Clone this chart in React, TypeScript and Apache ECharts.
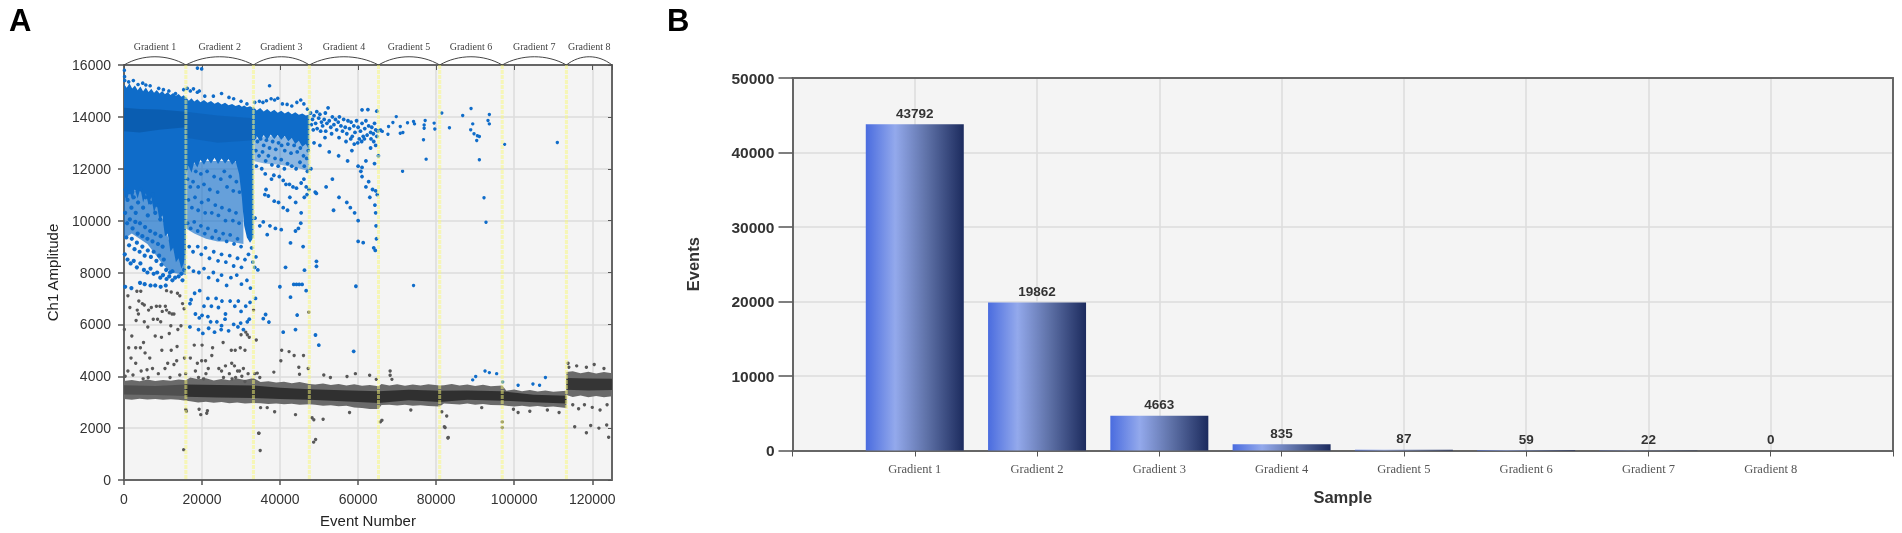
import React, { useEffect, useRef } from "react";
import * as echarts from "echarts";

// ---------- Panel A ----------
const gradientNames = ["Gradient 1", "Gradient 2", "Gradient 3", "Gradient 4", "Gradient 5", "Gradient 6", "Gradient 7", "Gradient 8"];
const gradientEdges = [0, 15857, 33171, 47494, 65217, 80895, 96930, 113376, 125060];

// Dense clouds are outlines: [event, upper amplitude, lower amplitude]
const blueSolidG1 = [[0, 15270, 11000], [700, 15120, 10750], [1400, 15300, 11150], [2100, 15090, 10800], [2800, 15210, 11200], [3500, 15030, 10850], [4200, 15170, 11250], [4900, 14990, 10700], [5600, 15130, 11050], [6300, 14960, 10600], [7000, 15080, 10900], [7700, 14930, 10300], [8400, 15040, 10650], [9100, 14900, 10000], [9800, 15000, 10200], [10500, 14870, 9400], [11200, 14960, 9500], [11900, 14840, 8800], [12600, 14920, 8950], [13300, 14810, 8400], [14000, 14880, 8550], [14700, 14780, 8150], [15300, 14830, 8350], [15857, 14760, 8900]];
const blueSolidG2 = [[15857, 14780, 11800], [16600, 14620, 12100], [17300, 14720, 11850], [18000, 14590, 12250], [18800, 14680, 12050], [19600, 14560, 12350], [20500, 14650, 12150], [21400, 14540, 12400], [22300, 14610, 12200], [23200, 14510, 12420], [24100, 14570, 12180], [25000, 14480, 12400], [25900, 14540, 12200], [26800, 14450, 12380], [27700, 14500, 12150], [28600, 14420, 12300], [29500, 14470, 11800], [30200, 14390, 10900], [30800, 14440, 9800], [31500, 14370, 9350], [32300, 14410, 9150], [33171, 14340, 9350]];
const blueSolidG3 = [[33171, 14400, 13000], [34000, 14250, 13250], [34900, 14340, 13080], [35800, 14210, 13300], [36700, 14300, 13120], [37600, 14190, 13320], [38500, 14270, 13150], [39400, 14160, 13300], [40300, 14240, 13120], [41200, 14130, 13260], [42100, 14210, 13060], [43000, 14100, 13190], [43900, 14180, 12950], [44800, 14080, 13080], [45700, 14130, 12850], [46600, 14050, 12950], [47494, 14090, 12700]];
const blueDarkG1 = [[0, 14350, 13450], [4000, 14300, 13400], [9000, 14280, 13500], [15857, 14200, 13600]];
const blueDarkG2 = [[15857, 14200, 13200], [24000, 14050, 13000], [33171, 13950, 13100]];
const blueHazeG1 = [[0, 11100, 9300], [2000, 11100, 9500], [4000, 11200, 9300], [6000, 11000, 9100], [8000, 10900, 8700], [10000, 10000, 8300], [12000, 9000, 8000], [15857, 9000, 7900]];
const blueHazeG2 = [[15857, 12000, 9700], [18000, 12200, 9500], [21000, 12300, 9300], [24000, 12300, 9200], [27000, 12300, 9200], [30600, 12200, 9100]];
const blueHazeG3 = [[33171, 13100, 12300], [36000, 13250, 12200], [40000, 13250, 12150], [44000, 13150, 12050], [47494, 12900, 11900]];

const bandOuter = [[0, 3820, 3120], [2000, 3860, 3090], [4000, 3810, 3130], [6000, 3870, 3100], [8000, 3820, 3120], [10000, 3860, 3090], [12000, 3830, 3110], [14000, 3870, 3090], [15857, 3850, 3060], [17000, 3950, 3040], [19000, 3880, 2990], [21000, 3920, 3020], [23000, 3840, 2980], [25000, 3890, 3010], [27000, 3850, 2960], [29000, 3910, 2990], [31000, 3860, 2950], [33171, 3930, 2970], [35000, 3780, 2960], [37000, 3810, 2930], [39000, 3760, 2950], [41000, 3790, 2920], [43000, 3730, 2940], [45000, 3780, 2900], [47494, 3700, 2920], [49000, 3680, 2900], [51000, 3720, 2860], [53000, 3660, 2880], [55000, 3700, 2840], [57000, 3640, 2860], [59000, 3690, 2800], [61000, 3630, 2780], [63000, 3660, 2740], [65217, 3610, 2740], [66000, 3700, 2890], [68000, 3640, 2900], [70000, 3690, 2870], [72000, 3630, 2900], [74000, 3680, 2860], [76000, 3640, 2880], [78000, 3690, 2850], [80895, 3640, 2830], [82000, 3650, 2950], [84000, 3700, 2930], [86000, 3640, 2910], [88000, 3680, 2950], [90000, 3620, 2900], [92000, 3670, 2930], [94000, 3610, 2890], [96930, 3640, 2880], [98000, 3440, 2860], [100000, 3490, 2830], [102000, 3420, 2860], [104000, 3470, 2820], [106000, 3410, 2850], [108000, 3450, 2810], [110000, 3400, 2830], [113376, 3440, 2780]];
const bandCoreG1 = [[0, 3650, 3300], [8000, 3620, 3280], [15857, 3680, 3240]];
const bandCore = [[15857, 3680, 3210], [24000, 3660, 3180], [33171, 3640, 3160], [40000, 3560, 3120], [47494, 3500, 3090], [56000, 3460, 3040], [65217, 3420, 2970], [73000, 3480, 3070], [80895, 3440, 3010], [88000, 3450, 3090], [96930, 3420, 3060], [105000, 3290, 3000], [113376, 3250, 2950]];
const bandOuterG8 = [[113376, 4160, 3280], [115000, 4190, 3200], [117000, 4120, 3260], [119000, 4170, 3190], [121000, 4110, 3240], [123000, 4160, 3190], [125060, 4120, 3230]];
const bandCoreG8 = [[113376, 3930, 3480], [119000, 3910, 3450], [125060, 3900, 3470]];

// Individually read droplets: [event, amplitude]
const blueEdge = [[100, 15800], [150, 15550], [200, 15400], [1200, 15350], [2400, 15400], [3600, 15250], [4800, 15300], [5600, 15230], [6700, 15200], [8900, 15100], [10100, 15050], [11500, 15000], [13200, 14900], [15300, 15050], [16200, 15100], [17000, 15000], [17800, 15080], [18800, 14950], [19300, 15000], [18820, 15880], [19900, 15850], [20700, 14800], [22900, 14800], [25000, 14900], [26900, 14750], [28100, 14700], [30000, 14600], [31500, 14500], [33500, 14560], [34700, 14600], [35600, 14560], [36500, 14620], [37700, 14700], [38600, 14650], [39400, 14720], [40600, 14500], [41800, 14480], [43000, 14420], [44300, 14560], [45300, 14650], [46100, 14500], [47000, 14300], [37300, 15200]];
const blueG1 = [[400, 11200], [900, 10800], [1400, 11100], [1900, 10500], [2500, 10900], [3000, 10300], [3600, 10700], [4300, 11200], [4900, 10500], [5500, 10900], [6100, 10200], [6800, 10700], [7400, 11000], [8000, 10300], [8600, 10600], [9300, 10050], [300, 10300], [800, 9900], [1500, 10050], [2200, 9700], [2900, 9950], [3500, 9500], [4100, 9900], [4700, 9400], [5400, 9750], [6000, 9300], [6700, 9600], [7300, 9200], [8000, 9500], [8700, 9100], [9400, 9400], [9900, 9000], [600, 9350], [1300, 9050], [2000, 9300], [2700, 8900], [3300, 9150], [4000, 8800], [4700, 9000], [5300, 8650], [6100, 8850], [6900, 8600], [7600, 8800], [8300, 8450], [9000, 8650], [9600, 8300], [10200, 8500], [10800, 8100], [200, 8700], [900, 8500], [1700, 8350], [2500, 8450], [3300, 8200], [4200, 8350], [5100, 8100], [6000, 8000], [6800, 8150], [7600, 7950], [8500, 8000], [9300, 7800], [10000, 7900], [10900, 7750], [11600, 7850], [12400, 7700], [13100, 7800], [14000, 7850], [14700, 7950], [15400, 8100], [15000, 7700], [11800, 8000], [12400, 8050], [300, 7450], [1900, 7400], [4100, 7600], [5300, 7550], [6800, 7500], [8000, 7500], [9400, 7450], [10700, 7500]];
const blueG2 = [[16300, 11600], [17000, 11300], [17700, 11500], [18400, 11900], [19000, 11300], [19700, 11800], [20500, 11400], [21300, 11900], [22000, 11200], [23100, 11700], [24000, 11100], [24800, 11600], [25700, 11900], [26400, 11300], [27200, 11700], [28000, 11150], [28800, 11500], [29600, 11100], [16500, 10800], [17400, 10500], [18200, 10900], [19000, 10400], [19900, 10700], [20800, 10300], [21600, 10800], [22500, 10300], [23400, 10600], [24200, 10200], [25100, 10500], [26000, 10000], [27000, 10400], [27900, 10000], [28700, 10300], [29500, 9900], [16300, 9900], [17100, 9700], [18000, 9950], [18900, 9600], [19700, 9800], [20700, 9500], [21500, 9700], [22600, 9350], [23500, 9600], [24400, 9300], [25400, 9500], [26300, 9200], [27200, 9450], [28200, 9100], [29100, 9300], [30000, 9000], [16700, 9000], [17700, 8800], [18900, 9000], [19800, 8700], [20900, 8950], [21900, 8550], [23000, 8800], [24100, 8450], [25000, 8700], [26100, 8400], [27100, 8650], [28100, 8250], [29100, 8550], [30100, 8200], [31000, 8500], [31900, 8700], [32700, 8950], [33000, 8400], [33500, 8200], [16600, 8200], [17800, 8050], [19200, 8000], [20500, 8150], [21700, 7800], [22900, 8000], [24000, 7700], [25000, 7900], [26300, 7500], [27400, 7800], [28900, 7900], [30100, 7550], [31500, 7700], [32400, 7400], [17200, 6950], [16900, 6800], [18100, 7200], [19400, 7300], [20500, 6700], [21500, 7000], [22400, 6700], [23600, 7000], [24200, 6650], [25100, 6900], [26000, 6400], [27200, 6900], [28400, 6700], [29300, 6900], [30000, 6500], [31200, 6700], [32300, 6850], [18300, 6400], [19300, 6250], [20000, 6350], [21500, 6300], [22200, 6100], [23800, 6100], [25000, 5950], [25900, 6200], [28100, 6000], [29900, 6050], [31600, 6100], [32100, 6200], [16900, 5900], [19100, 5800], [20200, 5650], [21700, 5850], [23200, 5700], [24900, 5800], [26800, 5750], [29200, 5900], [30600, 5800]];
const blueG3 = [[33500, 13200], [34200, 13050], [35000, 13150], [35800, 12900], [36500, 13100], [37300, 12800], [38100, 13050], [38900, 12750], [39600, 13000], [40400, 12900], [41200, 12700], [42000, 12950], [42800, 12600], [43600, 12900], [44400, 12650], [45200, 12800], [46000, 12500], [46800, 12400], [47200, 12700], [33800, 12700], [34600, 12500], [35500, 12650], [36300, 12300], [37000, 12500], [37900, 12150], [38700, 12400], [39500, 12100], [40300, 12350], [41100, 12000], [41900, 12200], [43000, 12100], [44100, 12000], [45100, 12250], [46200, 12100], [47000, 11900], [33900, 12100], [35300, 12000], [36200, 11800], [37800, 11600], [38400, 11750], [39800, 11700], [40800, 11550], [41500, 11400], [42400, 11400], [43300, 11300], [44200, 11250], [45400, 11450], [46100, 11600], [46700, 11300], [47400, 11200], [36100, 11000], [36400, 11200], [37000, 10950], [38500, 10750], [39600, 10700], [40800, 10500], [41900, 10400], [42500, 10900], [44000, 10700], [45400, 10300], [46200, 10900], [46900, 11000], [33600, 10100], [34800, 9800], [35700, 9950], [36700, 9460], [37400, 9800], [38800, 9700], [40300, 9650], [42670, 9140], [43950, 9600], [44700, 9700], [45300, 9900], [45900, 9000], [46250, 8090], [41400, 8200], [39950, 7450], [43500, 7540], [44200, 7540], [44900, 7540], [45650, 7540], [46680, 7300], [42670, 7050], [44380, 6360], [43950, 5800], [40800, 5700], [36290, 6380], [35690, 6220], [37140, 6090], [49320, 8430], [49320, 8240], [49070, 5590], [49920, 5200], [33800, 8600], [34300, 8100], [33700, 7000]];
const blueG4 = [[47800, 14150], [48300, 13900], [48700, 14050], [49100, 13750], [49400, 14200], [49900, 13950], [50200, 14100], [50600, 13800], [50900, 13650], [51300, 13900], [51600, 14150], [52000, 13750], [52300, 14350], [52600, 13850], [53000, 13600], [53400, 14000], [53800, 13700], [54200, 13900], [54500, 13500], [54900, 13800], [55200, 14000], [55600, 13650], [56000, 13450], [56300, 13900], [56700, 13600], [57100, 13350], [57400, 13850], [57800, 13550], [58200, 13800], [58500, 13250], [58900, 13650], [59200, 13400], [59600, 13850], [60000, 13600], [60300, 13150], [60600, 13450], [61000, 13750], [61300, 13250], [61700, 13550], [62000, 13850], [62300, 13300], [62700, 13650], [63200, 13400], [63500, 13600], [63900, 13350], [64200, 13750], [64500, 13500], [64800, 13250], [65000, 13450], [48000, 13700], [48500, 13500], [49500, 13550], [50400, 13450], [51700, 13450], [53200, 13350], [55100, 13200], [56900, 13050], [58100, 13150], [59900, 13000], [60900, 13050], [61600, 13150], [63300, 13150], [64000, 13050], [61000, 14270], [62500, 14280], [64800, 14220], [48700, 13000], [50200, 12900], [51500, 13200], [52600, 12650], [55000, 12500], [57300, 12300], [58400, 12700], [59000, 12950], [60000, 12100], [61000, 12050], [62000, 12300], [63200, 12800], [64200, 12200], [64500, 12900], [65200, 12500], [47900, 12000], [49000, 11100], [49300, 11050], [51800, 11300], [53400, 11600], [53700, 10400], [55100, 10900], [57100, 10700], [58000, 10500], [59100, 10300], [60000, 10000], [60700, 11900], [61000, 11700], [62000, 11300], [62700, 11500], [63000, 10900], [63700, 11200], [64500, 11150], [64900, 11000], [64300, 10600], [64500, 10300], [64600, 9800], [64700, 9300], [60000, 9200], [61300, 9150], [64000, 8950], [64400, 8850], [59430, 7470], [58860, 4960]];
const blueLate = [[65700, 13500], [66200, 13440], [69770, 14010], [68910, 13780], [67800, 13630], [67640, 13330], [65850, 13470], [70800, 13630], [70800, 13370], [71470, 13400], [72660, 13770], [74200, 13820], [74450, 13730], [77180, 13860], [76920, 13690], [76920, 13560], [79480, 13760], [79650, 13530], [76750, 13120], [77430, 12370], [71390, 11900], [74200, 7500], [81440, 14150], [83400, 13580], [86800, 14050], [88940, 14320], [93630, 14090], [93280, 13860], [93630, 13730], [89370, 13730], [88850, 13500], [89700, 13350], [90560, 13270], [91070, 13240], [90390, 13090], [91070, 12350], [92260, 10880], [92770, 9940], [97540, 12940], [111050, 13010], [89360, 3860], [90130, 3990], [92520, 4200], [93630, 4140], [95500, 4100], [97030, 3780], [101000, 3650], [104800, 3700], [106500, 3650], [108000, 3950]];
const greyDots = [[1000, 7100], [1500, 6650], [3300, 7280], [4300, 7280], [3800, 6900], [4700, 6800], [5200, 6750], [3400, 6550], [3700, 6400], [3100, 6150], [6300, 6550], [7000, 6650], [8300, 6700], [9200, 6700], [9800, 6500], [10600, 6700], [10900, 6550], [11600, 6450], [12300, 6400], [12800, 6400], [13700, 7200], [14300, 7100], [15000, 6800], [15400, 6600], [12100, 7250], [10900, 7300], [7500, 6200], [8600, 6200], [9400, 6100], [12000, 5950], [5200, 6100], [6100, 5900], [8000, 5550], [9600, 5500], [11600, 5650], [13800, 5800], [14600, 5950], [2000, 5550], [5000, 5300], [9700, 5000], [13600, 5150], [12100, 5000], [1200, 5100], [3000, 5100], [4200, 5100], [5400, 4900], [6600, 4700], [1800, 4700], [3000, 4500], [5900, 4250], [7300, 4300], [10500, 4300], [11200, 4500], [12800, 4450], [13500, 4600], [15500, 4700], [1000, 4200], [2300, 4050], [4400, 4200], [4900, 3900], [6200, 3950], [8800, 4100], [11800, 3950], [14300, 4050], [15800, 4100], [300, 4000], [100, 5800], [18000, 5200], [20000, 5200], [22700, 5100], [25400, 5300], [27500, 5000], [28500, 5000], [29800, 5100], [31000, 5000], [30000, 5600], [31600, 5600], [31200, 5700], [32100, 5500], [17000, 4700], [18800, 4500], [19900, 4600], [20900, 4600], [21600, 4300], [22500, 4800], [24300, 4300], [25000, 4200], [26000, 4400], [27000, 4100], [27600, 4500], [28300, 4400], [29100, 4200], [29600, 4200], [30600, 4300], [18300, 4200], [19100, 3950], [20400, 3900], [21000, 4100], [25500, 3950], [27700, 3900], [28600, 3950], [30200, 4000], [31800, 4100], [33500, 4100], [34800, 3950], [31000, 3800], [16000, 2650], [33200, 6550], [33900, 5400], [40400, 5000], [42300, 4950], [40200, 4600], [43600, 4800], [44800, 4350], [46000, 4800], [47200, 4300], [47360, 6470], [38400, 4160], [34150, 4120], [44980, 4080], [51200, 4050], [52900, 3950], [57150, 3990], [59300, 4100], [62950, 4040], [64650, 3880], [68200, 4200], [68200, 4040], [68660, 3880], [15830, 2720], [19250, 2730], [19670, 2520], [21200, 2570], [21380, 2670], [35000, 2790], [36700, 2790], [38600, 2630], [43950, 2520], [48200, 2400], [48640, 2320], [51030, 2340], [34600, 1800], [57800, 2600], [66100, 2300], [65700, 2240], [73500, 2700], [81440, 2630], [82700, 2470], [82300, 2020], [83100, 1640], [96940, 2240], [96940, 2020], [91670, 2790], [99800, 2730], [101000, 2600], [15300, 1170], [34500, 1800], [34900, 1140], [48600, 1460], [49100, 1560], [82100, 2050], [83000, 1620], [115500, 2050], [118500, 1820], [119600, 2100], [121700, 2000], [123700, 2120], [124200, 1650], [114000, 4350], [113800, 4500], [116000, 4400], [118500, 4350], [120500, 4450], [123000, 4300], [115000, 2900], [116500, 2750], [118000, 2900], [120000, 2800], [122000, 2700], [123800, 2900], [104000, 2650], [108500, 2700], [111500, 2600]];

const xTicksA = { min: 0, max: 125060, interval: 20000 };
const yTicksA = { min: 0, max: 16000, interval: 2000 };

// ---------- Panel B ----------
const sampleNames = ["", "Gradient 1", "Gradient 2", "Gradient 3", "Gradient 4", "Gradient 5", "Gradient 6", "Gradient 7", "Gradient 8", ""];
const sampleEvents = [null, 43792, 19862, 4663, 835, 87, 59, 22, 0, null];
const yTicksB = { min: 0, max: 50000, interval: 10000 };

const BLUE = "#0f6cc9";
const DARK_BLUE = "#0a58a8";
const layers: [number[][], string, number][] = [
  [blueHazeG1, BLUE, 0.68], [blueHazeG2, BLUE, 0.62], [blueHazeG3, BLUE, 0.45],
  [blueSolidG1, BLUE, 1], [blueSolidG2, BLUE, 1], [blueSolidG3, BLUE, 1],
  [blueDarkG1, DARK_BLUE, 0.75], [blueDarkG2, DARK_BLUE, 0.4],
  [bandOuter, "#6a6a6a", 1], [bandCoreG1, "#4f4f4f", 1], [bandCore, "#262626", 0.85],
  [bandOuterG8, "#6a6a6a", 1], [bandCoreG8, "#2c2c2c", 0.85],
];

const SANS = '"Liberation Sans", Arial, sans-serif';
const SERIF = '"Liberation Serif", serif';
const plain = (v: number) => String(v);

function option() {
  const gridLine = { show: true, lineStyle: { color: "#dcdcdc", width: 1.5 } };
  const axisLine = { show: true, onZero: false, lineStyle: { color: "#666", width: 2 } };
  const blankAxis = { axisLabel: { show: false }, splitLine: { show: false }, name: "" };
  const dots = (data: number[][], color: string, size: number, z: number) => ({
    type: "scatter", xAxisIndex: 0, yAxisIndex: 0, data, symbolSize: size, z,
    itemStyle: { color, opacity: 1 }, silent: true,
  });
  return {
    animation: false,
    backgroundColor: "#fff",
    textStyle: { fontFamily: SANS },
    graphic: [
      { type: "text", style: { text: "A", x: 9, y: 20, font: `bold 31px ${SANS}`, fill: "#000", textVerticalAlign: "middle" } },
      { type: "text", style: { text: "B", x: 667, y: 20, font: `bold 31px ${SANS}`, fill: "#000", textVerticalAlign: "middle" } },
    ],
    grid: [
      { left: 124, top: 65, width: 488, height: 416, show: true, backgroundColor: "#f4f4f4", borderWidth: 0 },
      { left: 792.5, top: 78, width: 1893 - 792.5, height: 372.5, show: true, backgroundColor: "#f4f4f4", borderWidth: 0 },
    ],
    xAxis: [
      {
        type: "value", gridIndex: 0, ...xTicksA, position: "bottom",
        name: "Event Number", nameLocation: "middle", nameGap: 33,
        nameTextStyle: { fontSize: 15, color: "#222", fontFamily: SANS },
        axisLine, axisTick: { show: true, length: 5, lineStyle: { color: "#555", width: 1.5 } },
        axisLabel: { fontSize: 14, color: "#333", margin: 12, showMaxLabel: false, fontFamily: SANS, fontWeight: 500, formatter: plain },
        splitLine: { ...gridLine, showMaxLine: false },
      },
      {
        type: "value", gridIndex: 0, ...xTicksA, position: "top", ...blankAxis,
        axisLine, axisTick: { show: true, inside: true, length: 5, lineStyle: { color: "#555", width: 1 } },
      },
      {
        type: "category", gridIndex: 1, data: sampleNames, position: "bottom", boundaryGap: false,
        name: "Sample", nameLocation: "middle", nameGap: 38,
        nameTextStyle: { fontSize: 16.5, fontWeight: "bold", color: "#333", fontFamily: SANS },
        axisLine, axisTick: { show: true, length: 6, interval: 0, lineStyle: { color: "#555", width: 1 } },
        axisLabel: { fontSize: 12.5, color: "#555", margin: 12, fontFamily: SERIF, interval: 0 },
        splitLine: { ...gridLine, interval: 0 },
      },
      {
        type: "category", gridIndex: 1, data: sampleNames, position: "top", boundaryGap: false, ...blankAxis,
        axisLine, axisTick: { show: false },
      },
    ],
    yAxis: [
      {
        type: "value", gridIndex: 0, ...yTicksA, position: "left",
        name: "Ch1 Amplitude", nameLocation: "middle", nameGap: 64, nameRotate: 90,
        nameTextStyle: { fontSize: 15, color: "#222", fontFamily: SANS },
        axisLine, axisTick: { show: true, length: 6, lineStyle: { color: "#555", width: 1.5 } },
        axisLabel: { fontSize: 14, color: "#333", margin: 13, fontFamily: SANS, fontWeight: 500, formatter: plain },
        splitLine: gridLine,
      },
      {
        type: "value", gridIndex: 0, ...yTicksA, position: "right", ...blankAxis,
        axisLine, axisTick: { show: true, inside: true, length: 4, lineStyle: { color: "#555", width: 1 } },
      },
      {
        type: "value", gridIndex: 1, ...yTicksB, position: "left",
        name: "Events", nameLocation: "middle", nameGap: 91, nameRotate: 90,
        nameTextStyle: { fontSize: 16.5, fontWeight: "bold", color: "#333", fontFamily: SANS },
        axisLine, axisTick: { show: true, length: 14, lineStyle: { color: "#555", width: 1.5 } },
        axisLabel: { fontSize: 15.5, color: "#333", margin: 18, fontFamily: SANS, fontWeight: "bold", formatter: plain },
        splitLine: gridLine,
      },
      {
        type: "value", gridIndex: 1, ...yTicksB, position: "right", ...blankAxis,
        axisLine, axisTick: { show: false },
      },
    ],
    series: [
      {
        type: "custom", xAxisIndex: 0, yAxisIndex: 0, z: 2, silent: true, clip: true,
        data: layers.map((_, i) => [i, 0]),
        renderItem: (p: any, api: any) => {
          const [table, fill, opacity] = layers[p.dataIndex];
          const upper = table.map((r) => api.coord([r[0], r[1]]));
          const lower = table.slice().reverse().map((r) => api.coord([r[0], r[2]]));
          return { type: "polygon", shape: { points: [...upper, ...lower] }, style: { fill, opacity } };
        },
      },
      dots(greyDots, "#585858", 3.4, 3),
      dots(blueEdge, BLUE, 3.6, 4),
      dots(blueG1, BLUE, 4.2, 4),
      dots(blueG2, BLUE, 3.8, 4),
      dots(blueG3, BLUE, 3.8, 4),
      dots(blueG4, BLUE, 3.8, 4),
      dots(blueLate, BLUE, 3.4, 4),
      {
        type: "custom", xAxisIndex: 0, yAxisIndex: 0, z: 6, silent: true, clip: false,
        data: gradientNames.map((_, i) => [gradientEdges[i], gradientEdges[i + 1]]),
        renderItem: (p: any, api: any) => {
          const a = api.coord([api.value(0), yTicksA.max]);
          const b = api.coord([api.value(1), yTicksA.max]);
          const w = b[0] - a[0];
          const top = api.coord([api.value(0), yTicksA.min]);
          const children: any[] = [
            {
              type: "bezierCurve",
              shape: { x1: a[0], y1: a[1], x2: b[0], y2: b[1], cpx1: a[0] + w * 0.3, cpy1: a[1] - 11, cpx2: b[0] - w * 0.3, cpy2: b[1] - 11 },
              style: { stroke: "#444", lineWidth: 1, fill: "none" },
            },
            {
              type: "text",
              style: { text: gradientNames[p.dataIndex], x: (a[0] + b[0]) / 2, y: a[1] - 19, textAlign: "center", textVerticalAlign: "middle", font: `10px ${SERIF}`, fill: "#444" },
            },
          ];
          if (p.dataIndex > 0) {
            children.push({
              type: "line",
              shape: { x1: a[0], y1: a[1], x2: a[0], y2: top[1] },
              style: { stroke: "rgba(248,248,120,0.5)", lineWidth: 3, lineDash: [4, 1] },
            });
          }
          return { type: "group", children };
        },
      },
      {
        type: "bar", xAxisIndex: 2, yAxisIndex: 2, data: sampleEvents, barWidth: 98, z: 3,
        itemStyle: {
          color: new echarts.graphic.LinearGradient(0, 0, 1, 0, [
            { offset: 0, color: "#4a6cdf" },
            { offset: 0.3, color: "#93a9ec" },
            { offset: 0.62, color: "#5f72a8" },
            { offset: 1, color: "#1c2b5e" },
          ]),
        },
        label: { show: true, position: "top", distance: 4, fontSize: 13.5, fontWeight: "bold", color: "#333", fontFamily: SANS },
      },
    ],
  };
}

export default function App() {
  const ref = useRef<HTMLDivElement>(null);
  useEffect(() => {
    document.body.style.margin = "0";
    const chart = echarts.init(ref.current!, undefined, { renderer: "svg" });
    chart.setOption(option() as any);
    return () => chart.dispose();
  }, []);
  return <div ref={ref} style={{ position: "absolute", left: 0, top: 0, width: 1902, height: 533, filter: "blur(0.4px)" }} />;
}
